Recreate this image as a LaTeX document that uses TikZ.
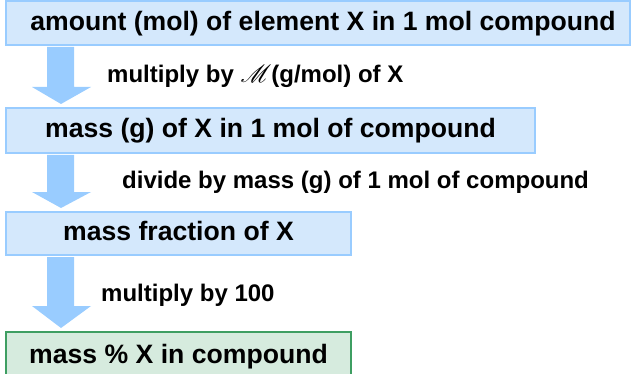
\documentclass[tikz,border=0pt]{standalone}
\usepackage{fontspec}
\usepackage{mathrsfs}
\setmainfont{Liberation Sans}
\usetikzlibrary{calc}
\definecolor{boxfill}{RGB}{212,232,252}
\definecolor{boxline}{RGB}{153,204,255}
\definecolor{arrowfill}{RGB}{153,204,255}
\definecolor{greenfill}{RGB}{214,235,222}
\definecolor{greenline}{RGB}{62,158,98}
\newcommand\flowarrow[3]{%
  \fill[arrowfill] let \p1=(#1.south west), \p2=(#2.north west) in
    (\x1+42pt,\y1-1pt) -- (\x1+69pt,\y1-1pt) -- (\x1+69pt,\y2+3pt+#3)
    -- (\x1+86pt,\y2+3pt+#3) -- (\x1+56pt,\y2+3pt) -- (\x1+27pt,\y2+3pt+#3)
    -- (\x1+42pt,\y2+3pt+#3) -- cycle;}
\begin{document}
\begin{tikzpicture}[x=1pt,y=-1pt,
  stepbox/.style={draw=boxline, fill=boxfill, line width=2pt, inner sep=0pt,
    font=\fontsize{26.6}{30}\selectfont\bfseries, text height=19.9pt, text depth=5.3pt},
  endbox/.style={stepbox, draw=greenline, fill=greenfill},
  lbl/.style={anchor=base west, inner sep=0pt, font=\fontsize{24}{28}\selectfont\bfseries}]
\useasboundingbox (0,0) rectangle (639,374);
\node[stepbox, minimum width=624pt, minimum height=44pt] (b1) at (318,23) {\kern10pt amount (mol) of element X in 1 mol compound};
\node[stepbox, minimum width=529pt, minimum height=45pt] (b2) at (270.5,130.5) {mass (g) of X in 1 mol of compound};
\node[stepbox, minimum width=345pt, minimum height=43pt] (b3) at (178.5,233.5) {mass fraction of X};
\node[endbox, minimum width=345pt, minimum height=48pt] (b4) at (178.5,356) {mass \% X in compound};
\flowarrow{b1}{b2}{17pt}
\flowarrow{b2}{b3}{16pt}
\flowarrow{b3}{b4}{22pt}
\node[lbl] (l1) at (107,83) {multiply by $\mathscr{M}$(g/mol) of X};
\node[lbl] (l2) at (122,188) {divide by mass (g) of 1 mol of compound};
\node[lbl] (l3) at (101,301) {multiply by 100};
\end{tikzpicture}
\end{document}
